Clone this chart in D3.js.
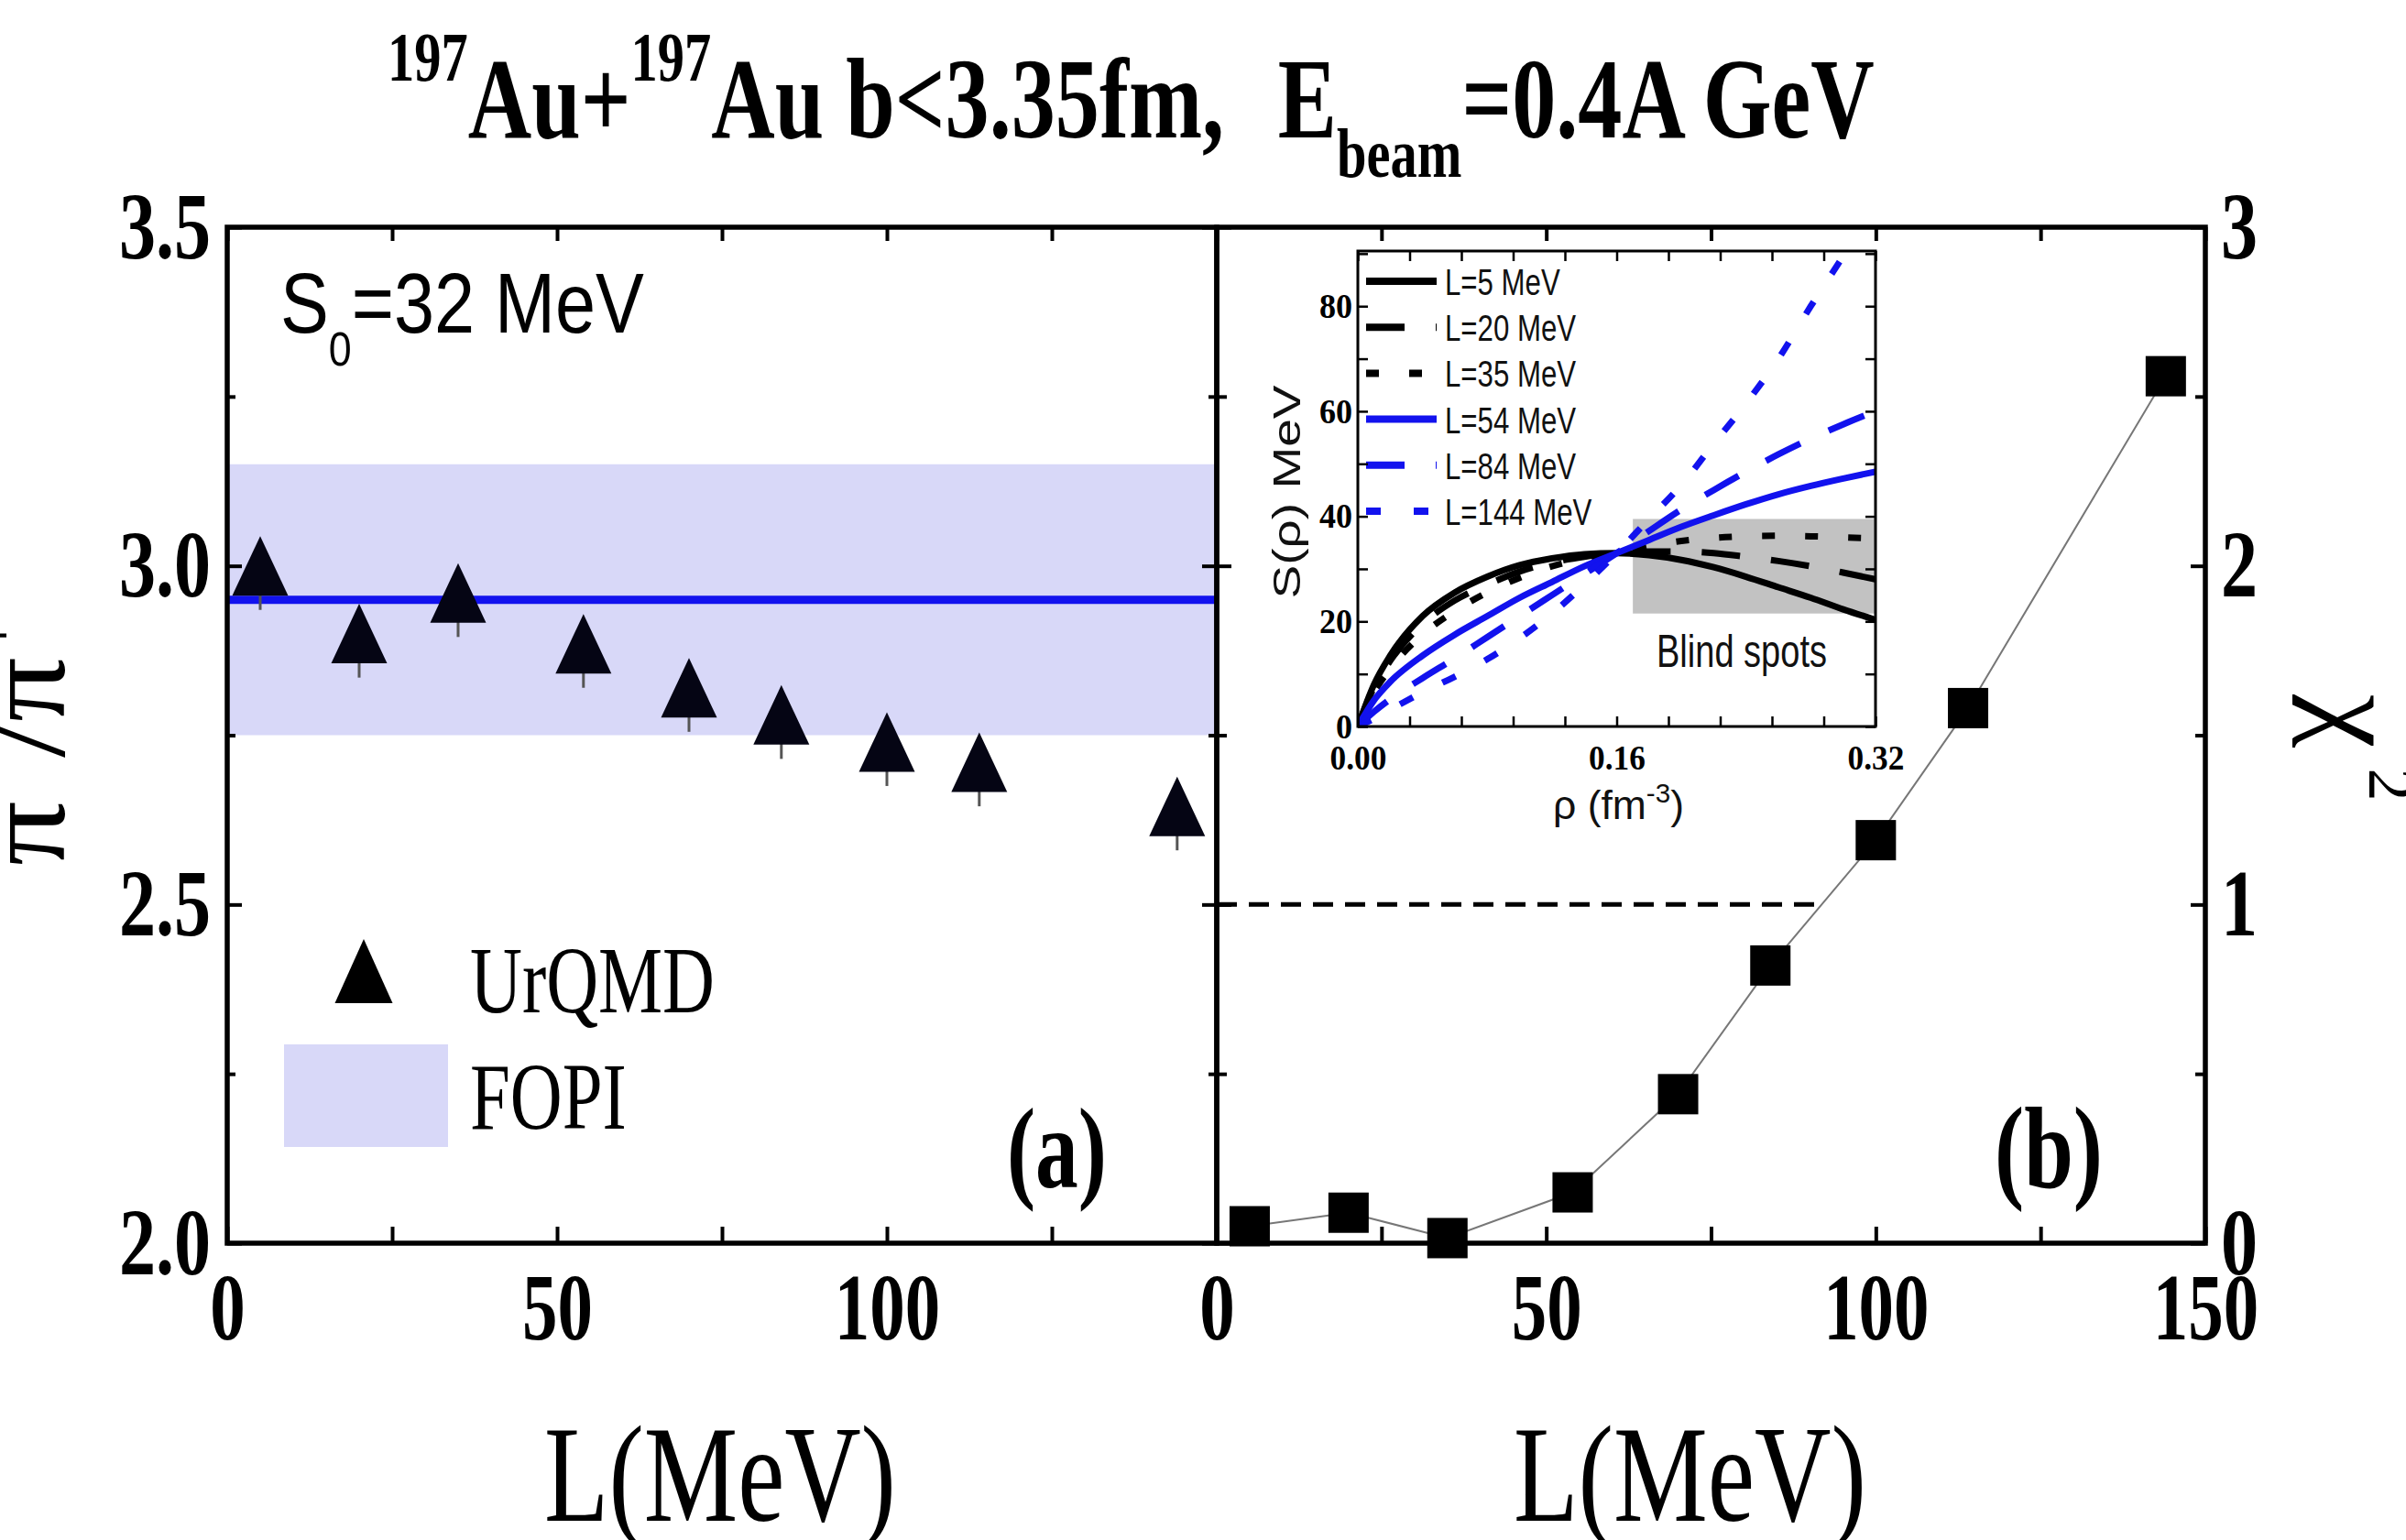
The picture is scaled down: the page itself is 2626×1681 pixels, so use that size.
<!DOCTYPE html>
<html>
<head>
<meta charset="utf-8">
<script src="https://cdn.jsdelivr.net/npm/d3@7"></script>
<style>
body { margin: 0; background: #fff; }
svg { display: block; }
</style>
</head>
<body>
<div id="chart"></div>
<script>
// values
var L_values = [5, 20, 35, 54, 70, 84, 100, 114, 144];
var ratio_urqmd = [3.00, 2.90, 2.96, 2.885, 2.82, 2.78, 2.74, 2.71, 2.645];
var ratio_err = [0.065, 0.065, 0.065, 0.065, 0.065, 0.065, 0.065, 0.065, 0.065];
var chi2_values = [0.05, 0.09, 0.015, 0.15, 0.44, 0.82, 1.19, 1.58, 2.56];
var fopi_band = [2.75, 3.15];
var fopi_mean = 2.95;
var chi2_ref = 1;
var chi2_ref_L = [0, 92];

// inset: symmetry energy curves
var rho = [0, 0.01, 0.02, 0.04, 0.06, 0.08, 0.10, 0.12, 0.14, 0.16, 0.18, 0.20, 0.22, 0.24, 0.26, 0.28, 0.30, 0.32];
var S_L5   = [0, 8, 13.5, 21, 25.5, 28.5, 30.7, 32, 32.8, 33, 32.6, 31.7, 30.3, 28.5, 26.5, 24.5, 22.3, 20.3];
var S_L20  = [0, 7.5, 12.5, 19.5, 24, 27, 29.5, 31.2, 32.3, 33, 33.3, 33.3, 33, 32.3, 31.5, 30.5, 29.3, 28];
var S_L35  = [0, 6.5, 11, 17.5, 22, 25.5, 28.3, 30.5, 32, 33, 34.3, 35.3, 35.9, 36.2, 36.3, 36.2, 36, 35.8];
var S_L54  = [0, 5, 8.5, 13.5, 17.5, 21, 24.5, 27.5, 30.5, 33, 35.5, 38, 40.2, 42.3, 44.2, 45.8, 47.2, 48.5];
var S_L84  = [0, 2.8, 5.2, 9.2, 13, 17, 21, 25, 29, 33, 37.2, 41.3, 45, 48.5, 51.8, 54.8, 57.5, 60];
var S_L144 = [0, 1.5, 3.2, 6.5, 9.5, 12.8, 16.8, 21.5, 27, 33, 39.5, 46, 53.8, 61.5, 70, 80, 89.5, 99];
var curve_names = ["L=5 MeV", "L=20 MeV", "L=35 MeV", "L=54 MeV", "L=84 MeV", "L=144 MeV"];
var blind_rho = [0.17, 0.32];
var blind_S = [21.5, 39.5];

// tick labels
var ratio_ticks = [2.0, 2.5, 3.0, 3.5];
var ratio_minor = [2.25, 2.75, 3.25];
var chi2_ticks = [0, 1, 2, 3];
var chi2_minor = [0.5, 1.5, 2.5];
var L_ticks = [0, 25, 50, 75, 100, 125, 150];
var L_labels_a = [0, 50, 100];
var L_labels_b = [0, 50, 100, 150];
var rho_labels = [0, 0.16, 0.32];
var S_labels = [0, 20, 40, 60, 80];

var W = 2626, H = 1681;
var serif = "'Liberation Serif', 'Times New Roman', serif";
var sans = "'Liberation Sans', Arial, sans-serif";
var blue = "#1212ee";
var S_top = 90.5;

var svg = d3.select("#chart").append("svg")
    .attr("width", W)
    .attr("height", H);

var xa = d3.scaleLinear().domain([0, 150]).range([248, 1328]);
var xb = d3.scaleLinear().domain([0, 150]).range([1328, 2407]);
var ya = d3.scaleLinear().domain([2, 3.5]).range([1357, 248]);
var yb = d3.scaleLinear().domain([0, 3]).range([1357, 248]);
var xi = d3.scaleLinear().domain([0, 0.32]).range([1482, 2047]);
var yi = d3.scaleLinear().domain([0, S_top]).range([793, 274]);

// squeeze a text horizontally to the width seen in the figure
function fitText(sel, x0, y0, width) {
    var bb = sel.node().getBBox();
    var k = width / bb.width;
    sel.attr("transform", "translate(" + (x0 - bb.x * k) + "," + y0 + ") scale(" + k + ",1)");
    return k;
}

function drawAxis(axis, tx, ty, o) {
    var g = svg.append("g")
        .attr("transform", "translate(" + tx + "," + ty + ")")
        .call(axis);
    g.select(".domain").remove();
    g.selectAll(".tick line").attr("stroke", "#000").attr("stroke-width", o.tw || 4);
    g.attr("font-family", o.font || serif)
        .attr("font-size", o.fs || 104)
        .attr("font-weight", "bold");
    g.selectAll(".tick text").attr("fill", "#000");
    if (o.k) {
        g.selectAll(".tick text").each(function() {
            var t = d3.select(this);
            var x = +t.attr("x") || 0;
            t.attr("x", x / o.k).attr("transform", "scale(" + o.k + ",1)");
        });
    }
    return g;
}

function triPath(w, h) {
    return "M0," + (-h / 2) + "L" + (w / 2) + "," + (h / 2) + "L" + (-w / 2) + "," + (h / 2) + "Z";
}

// ---------- title ----------
var title = svg.append("text")
    .attr("font-family", serif)
    .attr("font-weight", "bold")
    .attr("font-size", 125)
    .attr("fill", "#000");
title.append("tspan").attr("font-size", 76).attr("dy", -62).text("197");
title.append("tspan").attr("dy", 62).text("Au+");
title.append("tspan").attr("font-size", 76).attr("dy", -62).text("197");
title.append("tspan").attr("dy", 62).text("Au b<3.35fm, ");
title.append("tspan").attr("dx", 45).text("E");
title.append("tspan").attr("font-size", 76).attr("dy", 43).text("beam");
title.append("tspan").attr("dy", -43).text("=0.4A GeV");
fitText(title, 423, 150, 1623);

// ---------- panel (a) ----------
svg.append("rect")
    .attr("x", xa(0))
    .attr("y", ya(fopi_band[1]))
    .attr("width", xa(150) - xa(0))
    .attr("height", ya(fopi_band[0]) - ya(fopi_band[1]))
    .attr("fill", "#d8d8f8");

svg.append("line")
    .attr("x1", xa(0)).attr("x2", xa(150))
    .attr("y1", ya(fopi_mean)).attr("y2", ya(fopi_mean))
    .attr("stroke", blue)
    .attr("stroke-width", 9);

svg.selectAll(".errbar")
    .data(L_values)
    .enter()
    .append("line")
    .attr("class", "errbar")
    .attr("x1", function(d) { return xa(d); })
    .attr("x2", function(d) { return xa(d); })
    .attr("y1", function(d, i) { return ya(ratio_urqmd[i]); })
    .attr("y2", function(d, i) { return ya(ratio_urqmd[i] - ratio_err[i]); })
    .attr("stroke", "#555")
    .attr("stroke-width", 3);

svg.selectAll(".tri")
    .data(L_values)
    .enter()
    .append("path")
    .attr("class", "tri")
    .attr("d", triPath(61, 65))
    .attr("transform", function(d, i) {
        return "translate(" + xa(d) + "," + ya(ratio_urqmd[i]) + ")";
    })
    .attr("fill", "#050514");

svg.append("rect")
    .attr("x", xa(0)).attr("y", ya(3.5))
    .attr("width", xa(150) - xa(0)).attr("height", ya(2) - ya(3.5))
    .attr("fill", "none").attr("stroke", "#000").attr("stroke-width", 5.5);

var kx = 0.74, ky = 0.77;
drawAxis(d3.axisBottom(xa).tickValues(L_ticks).tickSize(-18).tickPadding(31)
    .tickFormat(function(d) { return L_labels_a.indexOf(d) >= 0 ? d : ""; }), 0, ya(2), {k: kx});
drawAxis(d3.axisTop(xa).tickValues(L_ticks).tickSize(-15).tickFormat(""), 0, ya(3.5), {});
drawAxis(d3.axisLeft(ya).tickValues(ratio_ticks).tickSize(-16).tickPadding(18)
    .tickFormat(d3.format(".1f")), xa(0), 0, {k: ky});
drawAxis(d3.axisLeft(ya).tickValues(ratio_minor).tickSize(-9).tickFormat(""), xa(0), 0, {});
drawAxis(d3.axisRight(ya).tickValues(ratio_ticks).tickSize(-16).tickFormat(""), xa(150), 0, {});
drawAxis(d3.axisRight(ya).tickValues(ratio_minor).tickSize(-9).tickFormat(""), xa(150), 0, {});

var s0 = svg.append("text")
    .attr("font-family", sans)
    .attr("font-size", 92)
    .attr("fill", "#000");
s0.append("tspan").text("S");
s0.append("tspan").attr("font-size", 52).attr("dy", 36).text("0");
s0.append("tspan").attr("dy", -36).text("=32 MeV");
fitText(s0, 306, 363, 397);

// legend (a)
svg.append("path")
    .attr("d", triPath(63, 70))
    .attr("transform", "translate(397,1060)")
    .attr("fill", "#000");
svg.append("rect")
    .attr("x", 310).attr("y", 1140)
    .attr("width", 179).attr("height", 112)
    .attr("fill", "#d8d8f8");
var lg1 = svg.append("text").attr("font-family", serif).attr("font-size", 103).attr("fill", "#000").text("UrQMD");
var kLeg = fitText(lg1, 513, 1105, 267);
svg.append("text").attr("font-family", serif).attr("font-size", 103).attr("fill", "#000")
    .attr("transform", "translate(513,1232) scale(" + kLeg + ",1)")
    .text("FOPI");

var pa = svg.append("text").attr("font-family", serif).attr("font-weight", "bold")
    .attr("font-size", 126).attr("fill", "#000").text("(a)");
fitText(pa, 1099, 1296, 109);

var xla = svg.append("text").attr("font-family", serif).attr("font-size", 150).attr("fill", "#000").text("L(MeV)");
fitText(xla, 594, 1660, 384);

// y label, cut at the left border as in the figure
var yl = svg.append("text")
    .attr("font-family", serif)
    .attr("font-size", 140)
    .attr("fill", "#000")
    .attr("transform", "translate(70,945) rotate(-90) scale(1,0.9)");
yl.append("tspan").text("\u03c0");
yl.append("tspan").attr("font-size", 84).attr("dy", -62).text("\u2212");
yl.append("tspan").attr("dy", 62).text("/\u03c0");
yl.append("tspan").attr("font-size", 84).attr("dy", -62).text("+");

// ---------- panel (b) ----------
svg.append("line")
    .attr("x1", xb(chi2_ref_L[0])).attr("x2", xb(chi2_ref_L[1]))
    .attr("y1", yb(chi2_ref)).attr("y2", yb(chi2_ref))
    .attr("stroke", "#000")
    .attr("stroke-width", 5)
    .attr("stroke-dasharray", "22,13");

var chiLine = d3.line()
    .x(function(d) { return xb(d); })
    .y(function(d, i) { return yb(chi2_values[i]); });
svg.append("path")
    .attr("d", chiLine(L_values))
    .attr("fill", "none")
    .attr("stroke", "#777")
    .attr("stroke-width", 2);

svg.selectAll(".sq")
    .data(L_values)
    .enter()
    .append("rect")
    .attr("class", "sq")
    .attr("x", function(d) { return xb(d) - 22; })
    .attr("y", function(d, i) { return yb(chi2_values[i]) - 22; })
    .attr("width", 44)
    .attr("height", 44)
    .attr("fill", "#000");

svg.append("rect")
    .attr("x", xb(0)).attr("y", yb(3))
    .attr("width", xb(150) - xb(0)).attr("height", yb(0) - yb(3))
    .attr("fill", "none").attr("stroke", "#000").attr("stroke-width", 5.5);

drawAxis(d3.axisBottom(xb).tickValues(L_ticks).tickSize(-18).tickPadding(31)
    .tickFormat(function(d) { return L_labels_b.indexOf(d) >= 0 ? d : ""; }), 0, yb(0), {k: kx});
drawAxis(d3.axisTop(xb).tickValues(L_ticks).tickSize(-15).tickFormat(""), 0, yb(3), {});
drawAxis(d3.axisLeft(yb).tickValues(chi2_ticks).tickSize(-16).tickFormat(""), xb(0), 0, {});
drawAxis(d3.axisLeft(yb).tickValues(chi2_minor).tickSize(-11).tickFormat(""), xb(0), 0, {});
drawAxis(d3.axisRight(yb).tickValues(chi2_ticks).tickSize(-16).tickPadding(17)
    .tickFormat(d3.format("d")), xb(150), 0, {k: ky});
drawAxis(d3.axisRight(yb).tickValues(chi2_minor).tickSize(-11).tickFormat(""), xb(150), 0, {});

var pb = svg.append("text").attr("font-family", serif).attr("font-weight", "bold")
    .attr("font-size", 126).attr("fill", "#000").text("(b)");
fitText(pb, 2177, 1296, 118);

var xlb = svg.append("text").attr("font-family", serif).attr("font-size", 150).attr("fill", "#000").text("L(MeV)");
fitText(xlb, 1652, 1660, 385);

var chi = svg.append("text")
    .attr("font-family", serif)
    .attr("font-size", 132)
    .attr("fill", "#000")
    .attr("transform", "translate(2530,758) rotate(90)");
chi.append("tspan").text("\u03c7");
chi.append("tspan").attr("font-size", 72).attr("dy", -56).attr("dx", 22).text("2");

// ---------- inset ----------
svg.append("rect")
    .attr("x", xi(0)).attr("y", yi(S_top))
    .attr("width", xi(0.32) - xi(0)).attr("height", yi(0) - yi(S_top))
    .attr("fill", "#fff");

svg.append("defs").append("clipPath").attr("id", "insetClip")
    .append("rect")
    .attr("x", xi(0)).attr("y", yi(S_top))
    .attr("width", xi(0.32) - xi(0)).attr("height", yi(0) - yi(S_top));

svg.append("rect")
    .attr("x", xi(blind_rho[0])).attr("y", yi(blind_S[1]))
    .attr("width", xi(blind_rho[1]) - xi(blind_rho[0]))
    .attr("height", yi(blind_S[0]) - yi(blind_S[1]))
    .attr("fill", "#c2c2c2");

var bs = svg.append("text").attr("font-family", sans).attr("font-size", 50).attr("fill", "#111").text("Blind spots");
fitText(bs, 1808, 728, 186);

var curves = [S_L5, S_L20, S_L35, S_L54, S_L84, S_L144];
var curve_color = ["#000", "#000", "#000", blue, blue, blue];
var curve_dash = [null, "42,34", "14,33", null, "42,34", "16,36"];

var sLine = d3.line()
    .x(function(d, i) { return xi(rho[i]); })
    .y(function(d) { return yi(d); })
    .curve(d3.curveMonotoneX);

var cg = svg.append("g").attr("clip-path", "url(#insetClip)");
cg.selectAll("path")
    .data(curves)
    .enter()
    .append("path")
    .attr("d", function(d) { return sLine(d); })
    .attr("fill", "none")
    .attr("stroke", function(d, i) { return curve_color[i]; })
    .attr("stroke-width", 7)
    .attr("stroke-dasharray", function(d, i) { return curve_dash[i]; });

// inset legend
var legY = d3.scaleLinear().domain([0, 5]).range([307, 558]);
var lg = svg.append("g");
lg.selectAll("line")
    .data(curve_names)
    .enter()
    .append("line")
    .attr("x1", 1491).attr("x2", 1568)
    .attr("y1", function(d, i) { return legY(i); })
    .attr("y2", function(d, i) { return legY(i); })
    .attr("stroke", function(d, i) { return curve_color[i]; })
    .attr("stroke-width", 8)
    .attr("stroke-dasharray", function(d, i) { return curve_dash[i]; });
var kIn = null;
curve_names.forEach(function(name, i) {
    var t = lg.append("text").attr("font-family", sans).attr("font-size", 40).attr("fill", "#111").text(name);
    if (kIn === null) {
        kIn = fitText(t, 1577, legY(i) + 15, 126);
    } else {
        t.attr("transform", "translate(1577," + (legY(i) + 15) + ") scale(" + kIn + ",1)");
    }
});

svg.append("rect")
    .attr("x", xi(0)).attr("y", yi(S_top))
    .attr("width", xi(0.32) - xi(0)).attr("height", yi(0) - yi(S_top))
    .attr("fill", "none").attr("stroke", "#000").attr("stroke-width", 3);

var rho_ticks = d3.range(11).map(function(i) { return i * 0.032; });
var S_ticks = d3.range(0, 91, 10);
drawAxis(d3.axisBottom(xi).tickValues(rho_ticks).tickSize(-11).tickPadding(20)
    .tickFormat(function(d, i) { return i % 5 === 0 ? d3.format(".2f")(rho_labels[i / 5]) : ""; }),
    0, yi(0), {fs: 38, k: 0.93, tw: 2.5});
drawAxis(d3.axisTop(xi).tickValues(rho_ticks).tickSize(-11).tickFormat(""), 0, yi(S_top), {tw: 2.5});
drawAxis(d3.axisLeft(yi).tickValues(S_ticks).tickSize(-11).tickPadding(6)
    .tickFormat(function(d) { return S_labels.indexOf(d) >= 0 ? d : ""; }),
    xi(0), 0, {fs: 38, k: 0.95, tw: 2.5});
drawAxis(d3.axisRight(yi).tickValues(S_ticks).tickSize(-11).tickFormat(""), xi(0.32), 0, {tw: 2.5});

var sy = svg.append("text")
    .attr("font-family", sans)
    .attr("font-size", 55)
    .attr("fill", "#111")
    .attr("text-anchor", "middle")
    .attr("transform", "translate(1419,537) rotate(-90) scale(1,0.78)")
    .text("S(\u03c1) MeV");

var rx = svg.append("text").attr("font-family", sans).attr("font-size", 45).attr("fill", "#111");
rx.append("tspan").text("\u03c1 (fm");
rx.append("tspan").attr("font-size", 30).attr("dy", -18).text("-3");
rx.append("tspan").attr("dy", 18).text(")");
fitText(rx, 1695, 894, 143);
</script>
</body>
</html>
